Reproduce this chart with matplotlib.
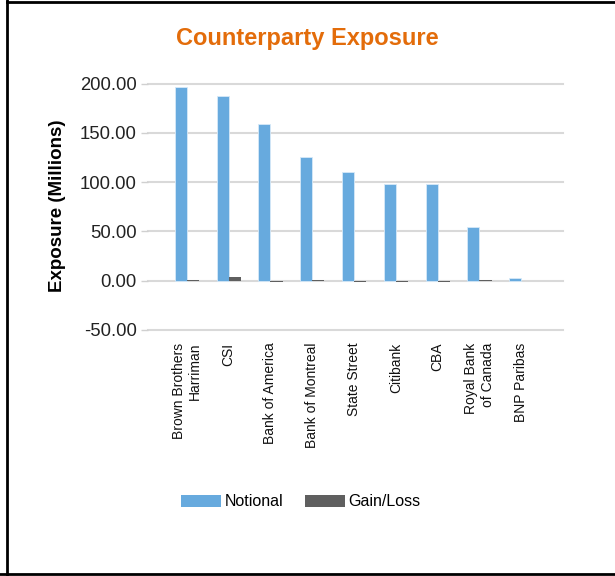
import matplotlib
matplotlib.use("Agg")
import matplotlib.pyplot as plt
from matplotlib.lines import Line2D
from matplotlib.patches import Patch
import numpy as np

plt.rcParams['font.family'] = ['Liberation Sans', 'DejaVu Sans']

categories = ["Brown Brothers\nHarriman", "CSI", "Bank of America", "Bank of Montreal",
              "State Street", "Citibank", "CBA", "Royal Bank\nof Canada", "BNP Paribas"]
notional = [196.8, 187.3, 159.6, 125.5, 110.5, 98.5, 98.5, 54.5, 2.5]
gain_loss = [1.2, 3.5, -0.8, 1.0, -0.8, -0.8, -0.8, 0.5, -0.5]
yticks = [-50, 0, 50, 100, 150, 200]

W, H = 615, 576
fig = plt.figure(figsize=(W / 100, H / 100), dpi=100)
fig.patch.set_facecolor('white')

ax = fig.add_axes([148 / W, 1 - 330 / H, (563 - 148) / W, (330 - 83.7) / H])
x = np.arange(len(categories))
bw = 0.29
blue = '#67aade'
gray = '#5f5f5f'
ax.bar(x - bw / 2, notional, width=bw, color=blue, zorder=3, edgecolor='#d6e9f8', linewidth=0.6)
ax.bar(x + bw / 2, gain_loss, width=bw, color=gray, zorder=3)

ax.set_xlim(-0.93, 9.0)
ax.set_ylim(-50, 200)
ax.set_yticks(yticks)
ax.set_yticklabels([f"{v:.2f}" for v in yticks], fontsize=13.3, color='#222222')
ax.yaxis.grid(True, color='#d9d9d9', linewidth=1.5, zorder=0)
ax.set_axisbelow(True)
for s in ax.spines.values():
    s.set_visible(False)
ax.tick_params(axis='y', length=5, width=1, color='#d0d0d0', pad=3)
ax.set_xticks(x)
ax.set_xticklabels(categories, rotation=90, fontsize=10, va='top', ha='center',
                   multialignment='right', color='#111111')
ax.tick_params(axis='x', length=0, pad=9)
for g in ax.get_ygridlines():
    g.set_clip_on(False)

ax.set_ylabel("Exposure (Millions)", fontsize=13.5, fontweight='bold')
ax.yaxis.set_label_coords((66 - 148) / (563 - 148), (330 - 206) / (330 - 83.7))

fig.text(307 / W, 1 - 38 / H, "Counterparty Exposure", ha='center', va='center',
         fontsize=17, fontweight='bold', color='#e36c0a')

handles = [Patch(facecolor=blue, edgecolor='none', label='Notional'),
           Patch(facecolor=gray, edgecolor='none', label='Gain/Loss')]
fig.legend(handles=handles, loc='center', bbox_to_anchor=(301 / W, 1 - 502 / H), ncol=2,
           frameon=False, fontsize=11.5, handlelength=2.5, handleheight=0.8,
           handletextpad=0.2, columnspacing=1.4)

# page frame lines
fig.add_artist(Line2D([7 / W, 7 / W], [0, 1], color='black', linewidth=2, transform=fig.transFigure))
fig.add_artist(Line2D([7 / W, 1], [1 - 1.5 / H, 1 - 1.5 / H], color='black', linewidth=2, transform=fig.transFigure))
fig.add_artist(Line2D([0, 1], [1 - 573.5 / H, 1 - 573.5 / H], color='black', linewidth=2, transform=fig.transFigure))

fig.savefig('out.png', dpi=100, facecolor='white')
